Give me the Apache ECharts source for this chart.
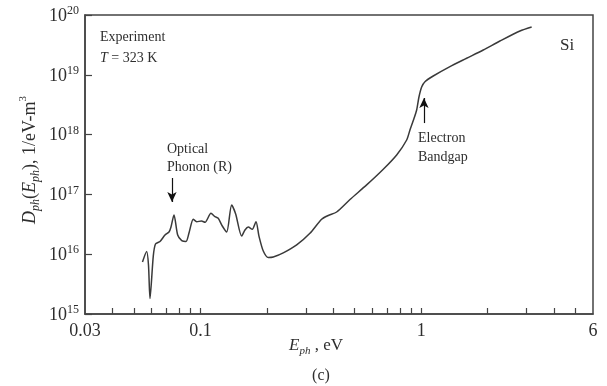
<!DOCTYPE html>
<html>
<head>
<meta charset="utf-8">
<script src="https://cdn.jsdelivr.net/npm/echarts@6/dist/echarts.min.js"></script>
<style>html,body{margin:0;padding:0;background:#fff}#c{width:607px;height:386px}</style>
</head>
<body>
<div id="c"></div>
<script>
// Photon energy E_ph (eV)
const energy = [0.05464,0.05708,0.05817,0.05909,0.06115,0.06258,0.06559,0.06910,0.07204,0.07356,
  0.07590,0.07887,0.08226,0.08601,0.08874,0.09282,0.09616,0.1011,0.1049,0.1116,
  0.1164,0.1204,0.1256,0.1315,0.1385,0.1444,0.1537,0.1591,0.1647,0.1717,
  0.1785,0.1841,0.1926,0.2029,0.2138,0.2372,0.2729,0.3133,0.3540,0.3793,
  0.4140,0.4757,0.5661,0.6732,0.7742,0.8593,0.8892,0.9224,0.9537,0.9768,
  1.0046,1.0399,1.1336,1.3494,1.6063,1.9099,2.273,2.801,3.164];
// Phonon density D_ph (1/eV-m^3)
const density = [7.41e15,1.11e16,6.6e15,1.82e15,9.3e15,1.48e16,1.63e16,2.09e16,2.35e16,2.85e16,
  4.53e16,2.09e16,1.69e16,1.63e16,2.26e16,3.84e16,3.49e16,3.59e16,3.41e16,4.83e16,
  4.24e16,3.98e16,2.96e16,2.35e16,6.65e16,4.70e16,2.01e16,2.54e16,2.85e16,2.61e16,
  3.49e16,2.01e16,1.13e16,8.81e15,8.98e15,1.05e16,1.43e16,2.24e16,3.84e16,4.44e16,
  5.08e16,8.22e16,1.44e17,2.63e17,4.56e17,8.12e17,1.19e18,1.75e18,2.58e18,4.25e18,
  6.25e18,7.67e18,9.55e18,1.37e19,1.89e19,2.60e19,3.67e19,5.40e19,6.30e19];
const xTickLabels = [0.03, 0.1, 1, 6];
const xMinorTicks = [0.04,0.05,0.06,0.07,0.08,0.09,0.1,0.2,0.3,0.4,0.5,0.6,0.7,0.8,0.9,1,2,3,4,5];
const yTickValues = [1e15,1e16,1e17,1e18,1e19,1e20];
const opticalArrow = [[0.0743, 1.88e17],[0.0743, 7.46e16]];
const bandgapArrow = [[1.029, 1.56e18],[1.029, 4.09e18]];

const FONT = '"Liberation Serif","DejaVu Serif",serif';
const INK = '#2e2e2e';
const chart = echarts.init(document.getElementById('c'), null, {renderer:'canvas'});
const data = energy.map((e,i)=>[e, density[i]]);

chart.setOption({
  animation: false,
  backgroundColor: '#fff',
  grid: {left: 85, right: 14, top: 15, bottom: 72, show: true, borderColor: '#444', borderWidth: 1.5, backgroundColor: 'transparent'},
  xAxis: {
    type: 'log', logBase: 10, min: 0.03, max: 6,
    axisLine: {show: true, lineStyle: {color: '#444', width: 1.5}},
    axisTick: {show: true, inside: true, length: 6, lineStyle: {color: '#444', width: 1.2}, customValues: xMinorTicks},
    axisLabel: {
      customValues: xTickLabels, margin: 8, color: INK, fontFamily: FONT, fontSize: 18,
      formatter: v => { let best = xTickLabels[0]; xTickLabels.forEach(t => { if (Math.abs(Math.log(t) - Math.log(v)) < Math.abs(Math.log(best) - Math.log(v))) best = t; }); return String(best); }
    },
    splitLine: {show: false}, minorTick: {show: false}
  },
  yAxis: {
    type: 'log', logBase: 10, min: 1e15, max: 1e20,
    axisLine: {show: true, lineStyle: {color: '#444', width: 1.5}},
    axisTick: {show: true, inside: true, length: 7, lineStyle: {color: '#444', width: 1.2}, customValues: yTickValues},
    axisLabel: {
      customValues: yTickValues, margin: 6, color: INK, fontFamily: FONT,
      formatter: v => '{b|10}{s|' + Math.round(Math.log10(v)) + '}',
      rich: {
        b: {fontFamily: FONT, fontSize: 18, color: INK, lineHeight: 20, verticalAlign: 'bottom'},
        s: {fontFamily: FONT, fontSize: 12, color: INK, verticalAlign: 'top', lineHeight: 12}
      }
    },
    splitLine: {show: false}, minorTick: {show: false}
  },
  series: [{
    type: 'line', data: data, symbol: 'none', smooth: 0.25,
    lineStyle: {color: '#3a3a3a', width: 1.5},
    markLine: {
      silent: true, symbol: ['none', 'arrow'], symbolSize: [7, 10],
      lineStyle: {color: '#111', width: 1.2, type: 'solid'},
      label: {show: false},
      data: [
        [{coord: opticalArrow[0]}, {coord: opticalArrow[1]}],
        [{coord: bandgapArrow[0]}, {coord: bandgapArrow[1]}]
      ]
    }
  }],
  graphic: [
    {type: 'text', left: 100, top: 30, style: {text: 'Experiment', font: '14px ' + FONT, fill: INK}},
    {type: 'text', left: 100, top: 51, style: {text: '{i|T} = 323 K', font: '14px ' + FONT, fill: INK,
      rich: {i: {fontStyle: 'italic', fontFamily: FONT, fontSize: 14, fill: INK}}}},
    {type: 'text', left: 560, top: 37, style: {text: 'Si', font: '17px ' + FONT, fill: INK}},
    {type: 'text', left: 167, top: 140, style: {text: 'Optical\nPhonon (R)', font: '14px ' + FONT, fill: INK, lineHeight: 18}},
    {type: 'text', left: 418, top: 129, style: {text: 'Electron\nBandgap', font: '14px ' + FONT, fill: INK, lineHeight: 19}},
    {type: 'text', x: 316, y: 347, style: {
      text: '{e|E}{p|ph}{n| , eV}', align: 'center', verticalAlign: 'middle', fill: INK,
      rich: {
        e: {fontFamily: FONT, fontStyle: 'italic', fontSize: 17, lineHeight: 20, verticalAlign: 'top'},
        p: {fontFamily: FONT, fontStyle: 'italic', fontSize: 11, lineHeight: 20, verticalAlign: 'bottom'},
        n: {fontFamily: FONT, fontSize: 17, lineHeight: 20, verticalAlign: 'top'}
      }}},
    {type: 'text', x: 321, y: 376, style: {text: '(c)', font: '16px ' + FONT, fill: INK, align: 'center', verticalAlign: 'middle'}},
    {type: 'text', x: 30, y: 160, rotation: Math.PI / 2, style: {
      text: '{d|D}{p|ph}{n|(}{d|E}{p|ph}{n|), 1/eV-m}{s|3}', align: 'center', verticalAlign: 'middle', fill: INK,
      rich: {
        d: {fontFamily: FONT, fontStyle: 'italic', fontSize: 18, lineHeight: 24, verticalAlign: 'middle'},
        p: {fontFamily: FONT, fontStyle: 'italic', fontSize: 12, lineHeight: 24, verticalAlign: 'bottom'},
        n: {fontFamily: FONT, fontSize: 18, lineHeight: 24, verticalAlign: 'middle'},
        s: {fontFamily: FONT, fontSize: 11, lineHeight: 24, verticalAlign: 'top'}
      }}}
  ]
});
</script>
</body>
</html>
